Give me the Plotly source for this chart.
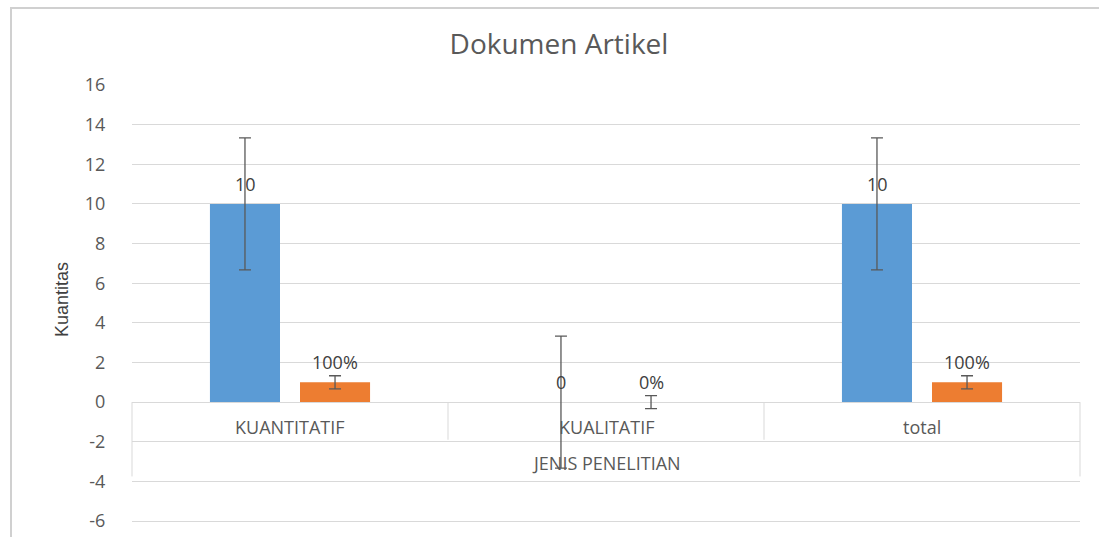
import plotly.graph_objects as go

categories = ["KUANTITATIF", "KUALITATIF", "total"]
jumlah = [10, 0, 10]
persen = [1, 0, 1]
jumlah_labels = ["10", "0", "10"]
persen_labels = ["100%", "0%", "100%"]
jumlah_err = [3.33, 3.33, 3.33]
persen_err = [0.33, 0.33, 0.33]
group_title = "JENIS PENELITIAN"
y_ticks = [-6, -4, -2, 0, 2, 4, 6, 8, 10, 12, 14, 16]
y_tick_labels = ["-6", "-4", "-2", "0", "2", "4", "6", "8", "10", "12", "14", "16"]

BLUE = "#5B9BD5"
ORANGE = "#ED7D31"
GRID = "#D9D9D9"
TXT = "#595959"
FONT = "Open Sans"

# body margin is removed by the post script, so page pixels == figure pixels
OFF = 0
PAGE_W, PAGE_H = 1099, 537
W, H = PAGE_W - 2 * OFF, PAGE_H - 2 * OFF
# plot area in page pixels (y range -6.1 .. 16)
PL, PR, PT, PB = 132, 1080, 85, 523
L, T = PL - OFF, PT - OFF
R, B = W - (PR - OFF), H - (PB - OFF)
PW, PH = PR - PL, PB - PT


def px_x(p):
    return (p - PL) / PW


def px_y(p):
    return (PB - p) / PH


fig = go.Figure()
fig.add_trace(go.Bar(
    x=categories, y=jumlah, marker=dict(color=BLUE, line=dict(width=0)),
    error_y=dict(type="data", array=jumlah_err, visible=True,
                 color="#595959", thickness=1.3, width=6),
    name="Jumlah", hoverinfo="x+y"))
fig.add_trace(go.Bar(
    x=categories, y=persen, marker=dict(color=ORANGE, line=dict(width=0)),
    error_y=dict(type="data", array=persen_err, visible=True,
                 color="#595959", thickness=1.3, width=6),
    name="Persen", hoverinfo="x+y"))

annotations = []
# data labels
for cat, v, lab in zip(categories, jumlah, jumlah_labels):
    annotations.append(dict(x=cat, y=v, xref="x", yref="y", text=lab,
                            showarrow=False, xshift=-45, yshift=20,
                            yanchor="middle",
                            font=dict(family=FONT, size=18, color="#404040")))
for cat, v, lab in zip(categories, persen, persen_labels):
    annotations.append(dict(x=cat, y=v, xref="x", yref="y", text=lab,
                            showarrow=False, xshift=45, yshift=20,
                            yanchor="middle",
                            font=dict(family=FONT, size=18, color="#404040")))
# category table labels
for cat in categories:
    annotations.append(dict(x=cat, y=-1.27, xref="x", yref="y", text=cat,
                            showarrow=False, yanchor="middle",
                            font=dict(family=FONT, size=18, color=TXT)))
annotations.append(dict(x=0.5, y=-3.08, xref="paper", yref="y",
                        text=group_title, showarrow=False, yanchor="middle",
                        font=dict(family=FONT, size=18, color=TXT)))
# y-axis title
annotations.append(dict(x=px_x(62), y=px_y(300), xref="paper", yref="paper",
                        text="Kuantitas", showarrow=False, textangle=-90,
                        xanchor="center", yanchor="middle",
                        font=dict(family="Liberation Sans", size=18,
                                  color="#404040")))

shapes = []
# category table lines
n = len(categories)
for i in range(1, n):
    shapes.append(dict(type="line", xref="paper", yref="y", x0=i / n, x1=i / n,
                       y0=0, y1=-1.9, line=dict(color=GRID, width=1)))
for xe in (0, 1):
    shapes.append(dict(type="line", xref="paper", yref="y", x0=xe, x1=xe,
                       y0=0, y1=-3.75, line=dict(color=GRID, width=1)))
# outer chart border
shapes.append(dict(type="line", xref="paper", yref="paper",
                   x0=px_x(10), x1=px_x(1120), y0=px_y(8), y1=px_y(8),
                   line=dict(color="#D0D0D0", width=2), layer="below"))
shapes.append(dict(type="line", xref="paper", yref="paper",
                   x0=px_x(11), x1=px_x(11), y0=px_y(8), y1=px_y(560),
                   line=dict(color="#D0D0D0", width=2), layer="below"))

fig.update_layout(
    width=W, height=H,
    margin=dict(l=L, r=R, t=T, b=B, autoexpand=False),
    paper_bgcolor="white", plot_bgcolor="white",
    showlegend=False,
    barmode="group", bargap=0.43, bargroupgap=0.222,
    title=dict(text="Dokumen Artikel", x=px_x(559), xref="paper",
               xanchor="center", y=1 - (44 - OFF) / H, yref="container",
               yanchor="middle",
               font=dict(family=FONT, size=28, color=TXT)),
    xaxis=dict(showticklabels=False, showgrid=False, zeroline=False,
               showline=False, ticks="", automargin=False),
    yaxis=dict(range=[-6.1, 16], tickvals=y_ticks, ticktext=y_tick_labels,
               showgrid=True, gridcolor=GRID, gridwidth=1,
               zeroline=True, zerolinecolor=GRID, zerolinewidth=1,
               showline=False, ticks="outside", ticklen=22,
               tickcolor="rgba(0,0,0,0)", ticklabeloverflow="allow",
               automargin=False,
               tickfont=dict(family=FONT, size=18, color=TXT)),
    annotations=annotations,
    shapes=shapes,
)

fig.write_html(
    "out.html",
    config={"displayModeBar": False},
    post_script="document.body.style.margin='0px';"
                "document.body.style.overflow='hidden';",
)
